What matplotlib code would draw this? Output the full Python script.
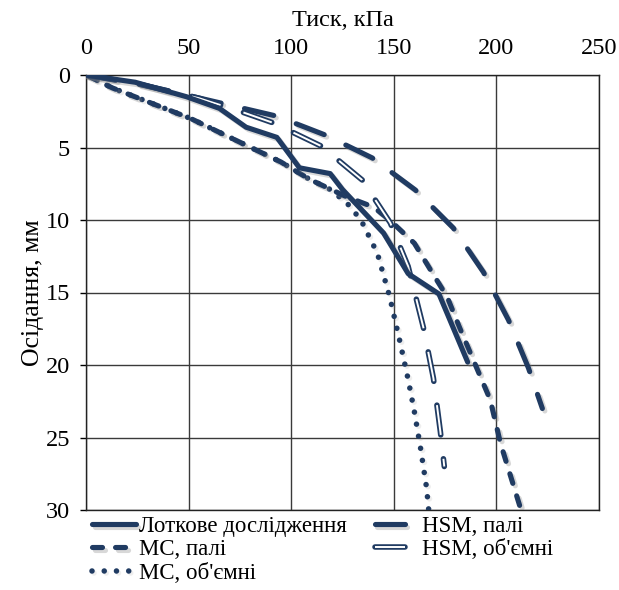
import matplotlib
matplotlib.use("Agg")
import matplotlib.pyplot as plt
import matplotlib.patheffects as pe

plt.rcParams['font.family'] = ['Liberation Serif', 'DejaVu Serif']
plt.rcParams['lines.scale_dashes'] = False

# Pressure (kPa) vs settlement (mm)
tray_p = [0, 24, 49, 65, 78, 93, 104, 119, 125, 145, 157, 172, 186]
tray_s = [0, 0.5, 1.5, 2.3, 3.6, 4.3, 6.4, 6.8, 7.9, 10.9, 13.7, 15.1, 19.8]

mc_piles_p = [0, 13, 51, 95, 109, 127, 140, 148, 160, 169, 176, 182, 197, 202, 212]
mc_piles_s = [0, 0.9, 3.0, 6.0, 7.2, 8.4, 9.1, 10.0, 11.6, 13.7, 15.3, 17.4, 22.4, 25.4, 30.0]

mc_vol_p = [0, 13, 51, 95, 109, 118, 127, 134, 142, 148, 153, 157, 160, 163, 166, 167]
mc_vol_s = [0, 0.9, 3.0, 6.0, 7.2, 7.8, 8.8, 10.0, 12.3, 15.3, 18.4, 21.0, 23.2, 25.7, 28.5, 30.0]

hsm_piles_p = [0, 25, 55.6, 92.7, 116.6, 139.5, 160.5, 179, 193.7, 205.9, 215.6, 222.4]
hsm_piles_s = [0, 0.6, 1.6, 2.83, 4.14, 5.72, 7.93, 10.55, 13.6, 16.9, 20.2, 23.0]

hsm_vol_p = [0, 25, 55, 75, 91.2, 114.6, 134.6, 148.3, 157, 164.4, 169.3, 172.7, 174.6]
hsm_vol_s = [0, 0.6, 1.6, 2.5, 3.3, 4.9, 7.24, 10.2, 13.2, 17.4, 20.9, 24.6, 27.0]

x_ticks = [0, 50, 100, 150, 200, 250]
y_ticks = [0, 5, 10, 15, 20, 25, 30]

navy = '#203B62'
shadow = [pe.SimpleLineShadow(offset=(1.8, -1.8), shadow_color='#808080', alpha=0.3), pe.Normal()]
light_shadow = [pe.SimpleLineShadow(offset=(1.5, -1.5), shadow_color='#909090', alpha=0.15), pe.Normal()]

fig = plt.figure(figsize=(6.19, 5.90), dpi=100)
ax = fig.add_axes([86/619, 1 - 510/590, (599 - 86)/619, (510 - 75)/590])

lw = 3.7
l_tray, = ax.plot(tray_p, tray_s, color=navy, lw=lw, solid_joinstyle='round',
                  solid_capstyle='round', path_effects=shadow, zorder=5)
l_mcp, = ax.plot(mc_piles_p, mc_piles_s, color=navy, lw=lw, dashes=(7.2, 9.4),
                 dash_capstyle='round', path_effects=shadow, zorder=4)
l_mcv, = ax.plot(mc_vol_p, mc_vol_s, color=navy, lw=4.0, dashes=(0.01, 8.8),
                 dash_capstyle='round', path_effects=light_shadow, zorder=3)
l_hsp, = ax.plot(hsm_piles_p, hsm_piles_s, color=navy, lw=lw, dashes=(21.6, 17.3),
                 dash_capstyle='round', path_effects=shadow, zorder=4)
l_hsv_o, = ax.plot(hsm_vol_p, hsm_vol_s, color=navy, lw=4.0, dashes=(21.6, 17.3),
                   dash_capstyle='round', zorder=4)
l_hsv_i, = ax.plot(hsm_vol_p, hsm_vol_s, color='white', lw=1.4, dashes=(21.6, 17.3),
                   dash_capstyle='butt', zorder=4.1)

ax.set_xlim(0, 250)
ax.set_ylim(30, 0)
ax.set_xticks(x_ticks)
ax.set_yticks(y_ticks)
ax.xaxis.tick_top()
ax.xaxis.set_label_position('top')
ax.tick_params(axis='x', length=0, labelsize=17.5, pad=11.5)
ax.tick_params(axis='y', length=4, width=1, labelsize=17.5, pad=7.5)
ax.grid(True, color='#3a3a3a', lw=1)
for sp in ax.spines.values():
    sp.set_color('#222222')
    sp.set_linewidth(1)
ax.set_xlabel('Тиск, кПа', fontsize=17.5, labelpad=9)
ax.set_ylabel('Осідання, мм', fontsize=18.5, labelpad=1)

handles = [l_tray, l_mcp, l_mcv, l_hsp, (l_hsv_o, l_hsv_i)]
labels = ['Лоткове дослідження', 'МС, палі', 'МС, об\'ємні', 'HSM, палі', 'HSM, об\'ємні']
fig.legend(handles, labels, loc='upper left', bbox_to_anchor=(92/619, 1 - 516/590),
           ncol=2, frameon=False, fontsize=16.5, handlelength=1.9, handletextpad=0.17,
           labelspacing=0.1, columnspacing=1.2, borderpad=0, borderaxespad=0)

fig.savefig('out.png', dpi=100)
